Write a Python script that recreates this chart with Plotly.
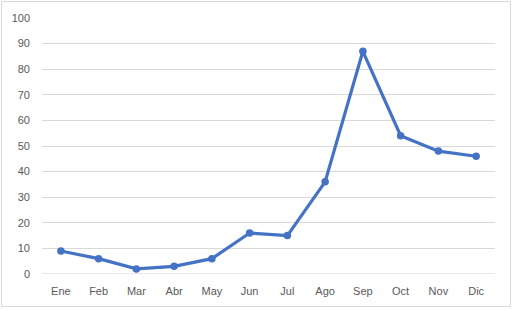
import plotly.graph_objects as go

months = ["Ene", "Feb", "Mar", "Abr", "May", "Jun", "Jul", "Ago", "Sep", "Oct", "Nov", "Dic"]
values = [9, 6, 2, 3, 6, 16, 15, 36, 87, 54, 48, 46]
y_ticks = list(range(0, 101, 10))

W, H = 515, 311
L, R, T, B = 42, 20, 18, 37
pw, ph = W - L - R, H - T - B

def px_x(p):
    return (p - L) / pw

def px_y(p):
    return (H - B - p) / ph

fig = go.Figure()
fig.add_trace(go.Scatter(
    x=months, y=values, mode="lines+markers",
    line=dict(color="#4472C4", width=3.2),
    marker=dict(color="#4472C4", size=7.5),
    hoverinfo="x+y",
    cliponaxis=False,
))

fig.update_layout(
    template="none",
    width=W, height=H,
    margin=dict(l=L, r=R, t=T, b=B, autoexpand=False),
    paper_bgcolor="white", plot_bgcolor="white",
    showlegend=False,
    font=dict(family="Liberation Sans, Arial, sans-serif", size=11, color="#595959"),
    xaxis=dict(
        type="category", range=[-0.5, 11.5],
        showgrid=False, showline=False, zeroline=False,
        ticks="", ticklabelstandoff=9, automargin=False,
        tickfont=dict(size=11, color="#595959"),
        fixedrange=True,
    ),
    yaxis=dict(
        range=[0, 100], tickvals=y_ticks,
        showgrid=True, gridcolor="#D9D9D9", gridwidth=1,
        zeroline=False, showline=False, ticks="",
        ticklabelstandoff=11, automargin=False,
        tickfont=dict(size=11, color="#595959"),
        fixedrange=True,
    ),
    shapes=[
        dict(type="rect", xref="paper", yref="paper",
             x0=px_x(1.5), x1=px_x(510.5), y0=px_y(306.5), y1=px_y(1.5),
             line=dict(color="#D9D9D9", width=1), fillcolor="rgba(0,0,0,0)", layer="below"),
        dict(type="line", xref="paper", yref="y",
             x0=0, x1=1, y0=0, y1=0,
             line=dict(color="#D0D0D0", width=1), layer="below"),
    ],
)

fig.write_html(
    "out.html",
    config={"displayModeBar": False},
    post_script="document.body.style.margin='0';document.body.style.overflow='hidden';",
)
